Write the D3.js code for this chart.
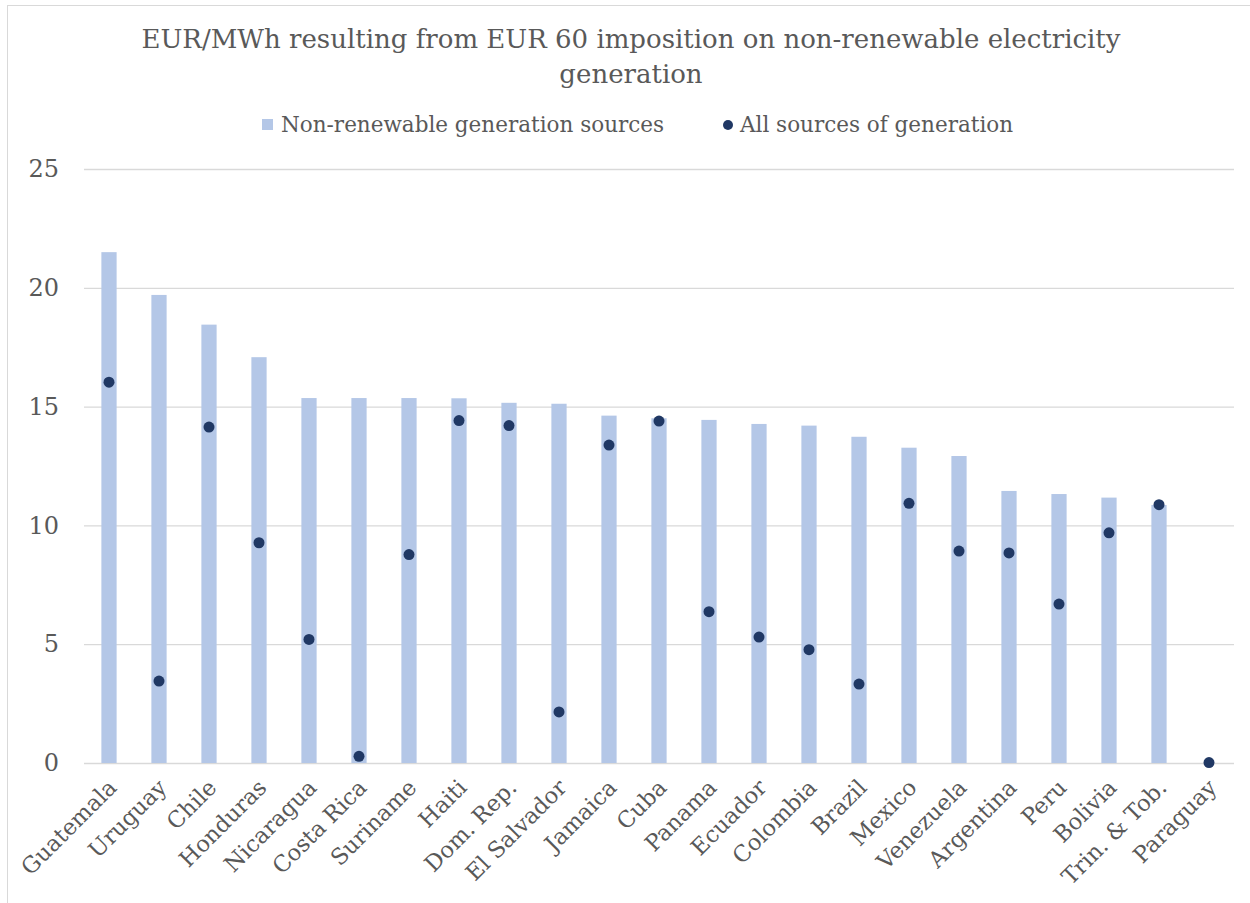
<!DOCTYPE html>
<html>
<head>
<meta charset="utf-8">
<script src="https://cdn.jsdelivr.net/npm/d3@7"></script>
<style>
  body { margin: 0; background: #fff; }
  svg { display: block; font-family: "DejaVu Serif", serif; }
</style>
</head>
<body>
<div id="chart"></div>
<script>
const countries = ["Guatemala", "Uruguay", "Chile", "Honduras", "Nicaragua", "Costa Rica",
  "Suriname", "Haiti", "Dom. Rep.", "El Salvador", "Jamaica", "Cuba", "Panama", "Ecuador",
  "Colombia", "Brazil", "Mexico", "Venezuela", "Argentina", "Peru", "Bolivia", "Trin. & Tob.", "Paraguay"];
const nonRenewable = [21.5, 19.7, 18.45, 17.08, 15.36, 15.36, 15.36, 15.35, 15.16, 15.12, 14.62, 14.51,
  14.44, 14.27, 14.2, 13.73, 13.27, 12.92, 11.45, 11.32, 11.17, 10.86, 0];
const allSources = [16.03, 3.45, 14.14, 9.27, 5.2, 0.28, 8.77, 14.41, 14.2, 2.15, 13.38, 14.39,
  6.37, 5.3, 4.77, 3.32, 10.93, 8.92, 8.84, 6.69, 9.69, 10.87, 0.02];
const yTicks = [0, 5, 10, 15, 20, 25];
const seriesNames = ["Non-renewable generation sources", "All sources of generation"];

const W = 1250, H = 903;
const margin = {top: 169, right: 16, bottom: 140, left: 84};
const textColor = "#595959", barColor = "#b4c7e7", dotColor = "#203864";

const svg = d3.select("#chart").append("svg")
  .attr("width", W).attr("height", H);

// chart border
svg.append("rect")
  .attr("x", 7.5).attr("y", 5.5)
  .attr("width", W + 20).attr("height", H + 20)
  .attr("fill", "none").attr("stroke", "#d9d9d9");

const xScale = d3.scaleBand()
  .domain(countries)
  .range([margin.left, W - margin.right]);
const yScale = d3.scaleLinear()
  .domain([0, 25])
  .range([H - margin.bottom, margin.top]);

// title
const title = svg.append("text")
  .attr("text-anchor", "middle")
  .attr("fill", textColor)
  .style("font-size", "26px");
title.append("tspan").attr("x", 631).attr("y", 48)
  .text("EUR/MWh resulting from EUR 60 imposition on non-renewable electricity");
title.append("tspan").attr("x", 631).attr("y", 83).text("generation");

// gridlines + y axis
const yAxis = d3.axisLeft(yScale)
  .tickValues(yTicks)
  .tickSize(-(W - margin.right - margin.left))
  .tickPadding(25);
svg.append("g")
  .attr("class", "y-axis")
  .attr("transform", `translate(${margin.left},0)`)
  .call(yAxis)
  .call(g => g.select(".domain").remove())
  .call(g => g.selectAll("line").attr("stroke", "#d9d9d9").attr("stroke-width", 1.3))
  .call(g => g.selectAll("text").attr("fill", textColor).style("font-size", "24px")
    .style("font-family", "DejaVu Serif, serif"));

// bars
const barW = xScale.bandwidth() * 0.305;
svg.selectAll("rect.bar")
  .data(countries)
  .enter()
  .append("rect")
  .attr("class", "bar")
  .attr("x", d => xScale(d) + (xScale.bandwidth() - barW) / 2)
  .attr("y", (d, i) => yScale(nonRenewable[i]))
  .attr("width", barW)
  .attr("height", (d, i) => yScale(0) - yScale(nonRenewable[i]))
  .attr("fill", barColor);

// dots
svg.selectAll("circle.dot")
  .data(countries)
  .enter()
  .append("circle")
  .attr("class", "dot")
  .attr("cx", d => xScale(d) + xScale.bandwidth() / 2)
  .attr("cy", (d, i) => yScale(allSources[i]))
  .attr("r", 5.5)
  .attr("fill", dotColor);

// x axis labels
const xAxis = d3.axisBottom(xScale).tickSize(0).tickPadding(0);
svg.append("g")
  .attr("class", "x-axis")
  .attr("transform", `translate(0,${yScale(0)})`)
  .call(xAxis)
  .call(g => g.select(".domain").remove())
  .selectAll("text")
  .attr("fill", textColor)
  .style("font-size", "22.5px")
  .style("font-family", "DejaVu Serif, serif")
  .attr("text-anchor", "end")
  .attr("dy", 0)
  .attr("transform", "translate(9,26) rotate(-45)");

// legend
const legend = svg.append("g").attr("class", "legend");
legend.append("rect")
  .attr("x", 262).attr("y", 119).attr("width", 11).attr("height", 11)
  .attr("fill", barColor);
legend.append("text")
  .attr("x", 281).attr("y", 132)
  .attr("fill", textColor).style("font-size", "21.5px")
  .text(seriesNames[0]);
legend.append("circle")
  .attr("cx", 728).attr("cy", 125).attr("r", 5)
  .attr("fill", dotColor);
legend.append("text")
  .attr("x", 740).attr("y", 132)
  .attr("fill", textColor).style("font-size", "21.5px")
  .text(seriesNames[1]);
</script>
</body>
</html>
